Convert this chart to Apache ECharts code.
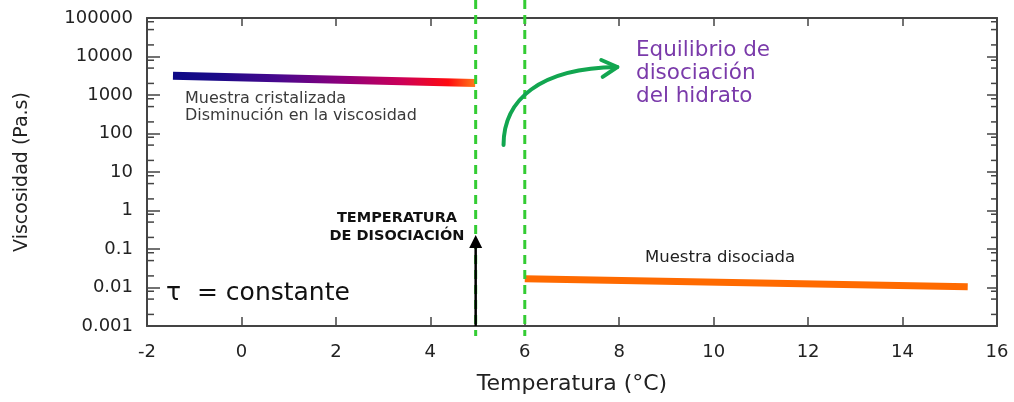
<!DOCTYPE html>
<html><head><meta charset="utf-8">
<script src="https://cdn.jsdelivr.net/npm/echarts/dist/echarts.min.js"></script>
<style>html,body{margin:0;padding:0;background:#fff}#c{width:1014px;height:402px}</style>
</head><body><div id="c"></div><script>
// ---- data ----
const xRange = [-2, 16];
const yRange = [0.001, 100000];
const crystallized = [[-1.45, 3150], [4.95, 2050]];
const dissociated = [[6.0, 0.017], [15.38, 0.0105]];
const dissociationLines = [4.96, 6.0];
const tempArrow = [4.96, 0.001, 0.23];
const curveArrow = [[5.55, 50], [5.55, 740], [6.31, 5040], [7.96, 5330]];
const curveArrowHead = [[7.62, 8130], [7.96, 5330], [7.65, 2950]];
const minorMultipliers = [2, 5, 8];
const decades = [-3, -2, -1, 0, 1, 2, 3, 4];

const minorValues = [];
decades.forEach(e => minorMultipliers.forEach(m => minorValues.push([m * Math.pow(10, e)])));

const chart = echarts.init(document.getElementById('c'), null, {renderer: 'canvas'});
const axisColor = '#444';
const tickFont = 'DejaVu Sans';

function fmtLog(v) {
  const e = Math.round(Math.log10(v));
  return e >= 0 ? String(Math.pow(10, e)) : Math.pow(10, e).toFixed(-e);
}

const option = {
  animation: false,
  grid: {left: 147, right: 17, top: 18, bottom: 76},
  xAxis: [{
    type: 'value', min: xRange[0], max: xRange[1], interval: 2, position: 'bottom',
    axisLine: {onZero: false, lineStyle: {color: axisColor, width: 2}},
    axisTick: {inside: true, length: 9, lineStyle: {color: axisColor, width: 1.5}},
    axisLabel: {margin: 17, fontSize: 18, color: '#222', fontFamily: tickFont},
    splitLine: {show: false},
    name: 'Temperatura (°C)', nameLocation: 'middle', nameGap: 47,
    nameTextStyle: {fontSize: 22, color: '#222', fontFamily: tickFont}
  }, {
    type: 'value', min: xRange[0], max: xRange[1], interval: 2, position: 'top',
    axisLine: {onZero: false, lineStyle: {color: axisColor, width: 2}},
    axisTick: {inside: true, length: 8, lineStyle: {color: axisColor, width: 1.5}},
    axisLabel: {show: false}, splitLine: {show: false}
  }],
  yAxis: [{
    type: 'log', logBase: 10, min: yRange[0], max: yRange[1], position: 'left',
    axisLine: {onZero: false, lineStyle: {color: axisColor, width: 2}},
    axisTick: {inside: true, length: 13, lineStyle: {color: axisColor, width: 1.5}},
    axisLabel: {margin: 14, fontSize: 18, color: '#222', fontFamily: tickFont, formatter: fmtLog},
    splitLine: {show: false},
    name: 'Viscosidad (Pa.s)', nameLocation: 'middle', nameGap: 115,
    nameTextStyle: {fontSize: 19, color: '#222', fontFamily: tickFont}
  }, {
    type: 'log', logBase: 10, min: yRange[0], max: yRange[1], position: 'right',
    axisLine: {onZero: false, lineStyle: {color: axisColor, width: 2}},
    axisTick: {inside: true, length: 10, lineStyle: {color: axisColor, width: 1.5}},
    axisLabel: {show: false}, splitLine: {show: false}
  }],
  series: [
    {
      type: 'custom', name: 'minorTicks', data: minorValues, silent: true, z: 3,
      renderItem: function (params, api) {
        const cs = params.coordSys;
        const y = api.coord([xRange[0], api.value(0)])[1];
        const st = {stroke: axisColor, lineWidth: 1.5};
        return {type: 'group', children: [
          {type: 'line', shape: {x1: cs.x, y1: y, x2: cs.x + 7, y2: y}, style: st},
          {type: 'line', shape: {x1: cs.x + cs.width - 6, y1: y, x2: cs.x + cs.width, y2: y}, style: st}
        ]};
      }
    },
    {
      type: 'line', name: 'Muestra cristalizada', data: crystallized, symbol: 'none', z: 4,
      lineStyle: {width: 8, cap: 'butt', color: new echarts.graphic.LinearGradient(0, 0, 1, 0, [
        {offset: 0, color: '#0d0a86'},
        {offset: 0.15, color: '#1a0a88'},
        {offset: 0.35, color: '#48088e'},
        {offset: 0.55, color: '#8a007c'},
        {offset: 0.75, color: '#cc0058'},
        {offset: 0.9, color: '#ff0a10'},
        {offset: 1, color: '#ff8a1a'}
      ])}
    },
    {
      type: 'line', name: 'Muestra disociada', data: dissociated, symbol: 'none', z: 4,
      lineStyle: {width: 7, cap: 'butt', color: '#ff6a00'}
    },
    {
      type: 'custom', name: 'dissociationLines', data: dissociationLines.map(v => [v]), clip: false, z: 5, silent: true,
      renderItem: function (params, api) {
        const cs = params.coordSys;
        const x = api.coord([api.value(0), yRange[1]])[0];
        return {type: 'line', shape: {x1: x, y1: 0, x2: x, y2: cs.y + cs.height + 10},
          style: {stroke: '#33cc33', lineWidth: 3, lineDash: [9, 6]}};
      }
    },
    {
      type: 'custom', name: 'tempArrow', data: [tempArrow], clip: false, z: 6, silent: true,
      renderItem: function (params, api) {
        const b = api.coord([api.value(0), api.value(1)]);
        const t = api.coord([api.value(0), api.value(2)]);
        return {type: 'group', children: [
          {type: 'line', shape: {x1: b[0], y1: b[1], x2: t[0], y2: t[1] + 10}, style: {stroke: '#000', lineWidth: 2.5}},
          {type: 'polygon', shape: {points: [[t[0], t[1]], [t[0] - 6.5, t[1] + 13], [t[0] + 6.5, t[1] + 13]]}, style: {fill: '#000'}}
        ]};
      }
    },
    {
      type: 'custom', name: 'curveArrow', data: [[0]], clip: false, z: 6, silent: true,
      renderItem: function (params, api) {
        const p = curveArrow.map(d => api.coord(d));
        const h = curveArrowHead.map(d => api.coord(d));
        const st = {stroke: '#12a650', lineWidth: 4, fill: null, lineCap: 'round', lineJoin: 'round'};
        return {type: 'group', children: [
          {type: 'bezierCurve', shape: {x1: p[0][0], y1: p[0][1], cpx1: p[1][0], cpy1: p[1][1], cpx2: p[2][0], cpy2: p[2][1], x2: p[3][0], y2: p[3][1]}, style: st},
          {type: 'polyline', shape: {points: h}, style: st}
        ]};
      }
    }
  ],
  graphic: [
    {type: 'text', left: 185, top: 90, z: 10, style: {text: 'Muestra cristalizada\nDisminución en la viscosidad', font: '16px DejaVu Sans', fill: '#3a3a3a', lineHeight: 17}},
    {type: 'text', left: 636, top: 39, z: 10, style: {text: 'Equilibrio de\ndisociación\ndel hidrato', font: '21.5px DejaVu Sans', fill: '#7a3aaa', lineHeight: 23}},
    {type: 'text', x: 397, y: 209, z: 10, style: {text: 'TEMPERATURA\nDE DISOCIACIÓN', font: 'bold 14.5px DejaVu Sans', fill: '#111', lineHeight: 18, align: 'center'}},
    {type: 'text', left: 166, top: 281, z: 10, style: {text: 'τ  = constante', font: '25px DejaVu Sans', fill: '#111'}},
    {type: 'text', left: 645, top: 249, z: 10, style: {text: 'Muestra disociada', font: '16.5px DejaVu Sans', fill: '#222'}}
  ]
};
chart.setOption(option);
</script></body></html>
